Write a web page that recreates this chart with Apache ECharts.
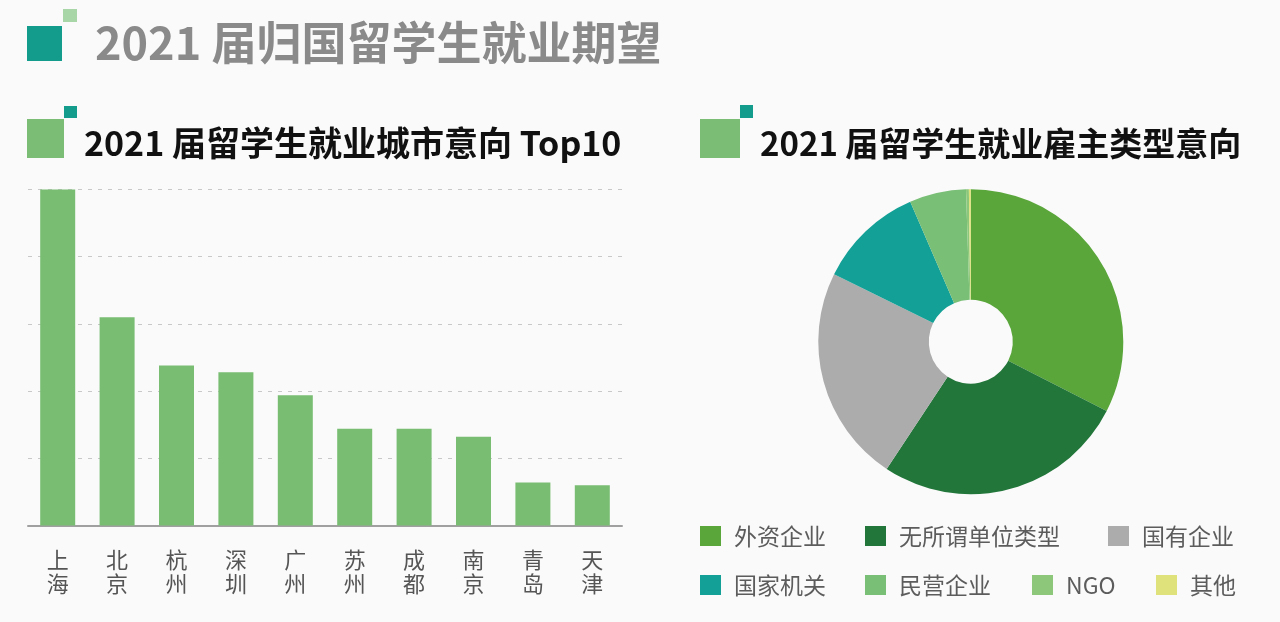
<!DOCTYPE html>
<html>
<head>
<meta charset="utf-8">
<script src="https://cdn.jsdelivr.net/npm/echarts@6/dist/echarts.min.js"></script>
<style>
html,body{margin:0;padding:0;background:#fafafa;}
#chart{width:1280px;height:622px;}
</style>
</head>
<body>
<div id="chart"></div>
<script>
// ---- data ----
const mainTitle = '2021 届归国留学生就业期望';
const barTitle = '2021 届留学生就业城市意向 Top10';
const pieTitle = '2021 届留学生就业雇主类型意向';
const cities = ['上海', '北京', '杭州', '深圳', '广州', '苏州', '成都', '南京', '青岛', '天津'];
const cityValues = [25, 15.5, 11.9, 11.4, 9.7, 7.2, 7.2, 6.6, 3.2, 3.0];
const employerTypes = ['外资企业', '无所谓单位类型', '国有企业', '国家机关', '民营企业', 'NGO', '其他'];
const employerShares = [32.5, 26.8, 23.0, 11.2, 6.0, 0.3, 0.2];
const yTickValues = [0, 5, 10, 15, 20, 25];

// ---- layout / style ----
const FONT = '"Noto Sans CJK SC", "Noto Sans", sans-serif';
const pieColors = ['#5aa63b', '#22763a', '#acacac', '#13a096', '#79bf76', '#8dc87a', '#dfe27a'];
const legendSlots = [[700, 524], [865, 524], [1108, 524], [700, 573], [865, 573], [1032, 573], [1156, 573]];
const barColor = '#78bd72';
const teal = '#139c8c';
const lightGreen = '#7bbd75';

const chart = echarts.init(document.getElementById('chart'));

const legends = employerTypes.map((name, i) => ({
  left: legendSlots[i][0],
  top: legendSlots[i][1],
  padding: 0,
  orient: 'horizontal',
  icon: 'rect',
  itemWidth: 21,
  itemHeight: 20,
  selectedMode: false,
  data: [name],
  textStyle: {
    fontFamily: FONT,
    fontSize: 23,
    lineHeight: 24,
    color: '#5c5c5c',
    padding: [0, 0, 0, 8]
  }
}));

const option = {
  backgroundColor: '#fafafa',
  animation: false,
  title: [
    {
      text: mainTitle, left: 95, top: 20, padding: 0,
      textStyle: {fontFamily: FONT, fontSize: 45, lineHeight: 45, fontWeight: 'bold', color: '#8a8a8a'}
    },
    {
      text: barTitle, left: 84, top: 126, padding: 0,
      textStyle: {fontFamily: FONT, fontSize: 34, lineHeight: 34, fontWeight: 'bold', color: '#111'}
    },
    {
      text: pieTitle, left: 760, top: 127, padding: 0,
      textStyle: {fontFamily: FONT, fontSize: 33, lineHeight: 33, fontWeight: 'bold', color: '#111'}
    }
  ],
  graphic: [
    {type: 'rect', shape: {x: 27, y: 26, width: 35, height: 35}, style: {fill: teal}},
    {type: 'rect', shape: {x: 63, y: 9, width: 14, height: 13}, style: {fill: '#a9d6a6'}},
    {type: 'rect', shape: {x: 27, y: 119, width: 37, height: 39}, style: {fill: lightGreen}},
    {type: 'rect', shape: {x: 64, y: 106, width: 13, height: 12}, style: {fill: teal}},
    {type: 'rect', shape: {x: 700, y: 119, width: 40, height: 39}, style: {fill: lightGreen}},
    {type: 'rect', shape: {x: 740, y: 105, width: 13, height: 13}, style: {fill: teal}}
  ],
  legend: legends,
  grid: {left: 28, top: 189.5, width: 594, height: 336, containLabel: false},
  xAxis: {
    type: 'category',
    data: cities,
    axisTick: {show: false},
    axisLine: {lineStyle: {color: '#a0a0a0', width: 2}},
    axisLabel: {
      interval: 0,
      margin: 22,
      fontFamily: FONT,
      fontSize: 22,
      lineHeight: 24,
      color: '#555',
      formatter: v => v.split('').join('\n')
    }
  },
  yAxis: {
    type: 'value',
    min: yTickValues[0],
    max: yTickValues[yTickValues.length - 1],
    interval: yTickValues[1] - yTickValues[0],
    axisLabel: {show: false},
    axisLine: {show: false},
    axisTick: {show: false},
    splitLine: {lineStyle: {color: '#c8c8c8', type: [4, 6], width: 1}}
  },
  series: [
    {
      type: 'bar',
      data: cityValues,
      barWidth: 35,
      itemStyle: {color: barColor},
      silent: true
    },
    {
      type: 'pie',
      center: [970.8, 341.7],
      radius: [42, 152.5],
      startAngle: 90,
      clockwise: true,
      label: {show: false},
      labelLine: {show: false},
      silent: true,
      data: employerTypes.map((n, i) => ({name: n, value: employerShares[i], itemStyle: {color: pieColors[i]}}))
    }
  ]
};
chart.setOption(option);
</script>
</body>
</html>
